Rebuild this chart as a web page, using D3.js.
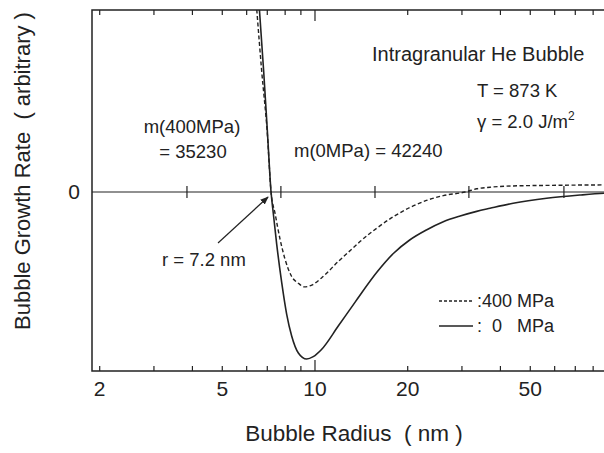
<!DOCTYPE html>
<html>
<head>
<meta charset="utf-8">
<script src="https://cdn.jsdelivr.net/npm/d3@7"></script>
<style>
  body { margin: 0; background: #fff; }
  text { font-family: "Liberation Sans", Arial, Helvetica, sans-serif; fill: #222; }
</style>
</head>
<body>
<script>
// bubble radius (nm) and growth rate (arbitrary units), 0 MPa curve
var radius0 = [6.6, 6.81, 7.01, 7.2, 7.32, 7.51, 7.8, 8.09, 8.4, 8.83, 9.4, 9.87, 10.5, 11.9, 13.5, 15.9, 18.0, 20.3, 23.0, 26.1, 29.6, 33.5, 37.0, 44.0, 56.5, 72.5, 87, 98];
var rate0 = [1.02, 0.68, 0.33, 0, -0.117, -0.291, -0.508, -0.682, -0.804, -0.899, -0.933, -0.92, -0.88, -0.749, -0.615, -0.447, -0.342, -0.268, -0.212, -0.166, -0.134, -0.108, -0.091, -0.063, -0.035, -0.017, -0.007, -0.004];

// 400 MPa curve
var radius400 = [6.47, 6.71, 7.0, 7.2, 7.42, 7.7, 7.99, 8.4, 8.83, 9.23, 9.76, 10.5, 11.9, 13.5, 14.0, 15.9, 18.0, 20.3, 23.0, 26.1, 30.7, 33.5, 37.0, 44.0, 56.5, 72.5, 98];
var rate400 = [1.02, 0.68, 0.33, 0, -0.12, -0.263, -0.374, -0.472, -0.51, -0.53, -0.52, -0.48, -0.388, -0.302, -0.277, -0.201, -0.137, -0.087, -0.047, -0.02, 0, 0.018, 0.027, 0.034, 0.037, 0.039, 0.04];

var xTickLabels = [2, 5, 10, 20, 50];
var xMinorTicks = [2, 3, 4, 5, 6, 7, 8, 9, 20, 30, 40, 50, 60, 70, 80, 90];
var xMajorTicks = [10, 100];
var zeroLineTicks = [3.84, 7.75, 15.66, 31.6, 64.3];

var legendItems = [
    {label: ":400 MPa", dash: "3,2"},
    {label: ":  0   MPa", dash: null}
];

var W = 604, H = 453;
var plotLeft = 92, plotTop = 10, plotBottom = 371;
var pxPerDecade = 308;

var x = d3.scaleLog()
    .domain([1.888, 100])
    .range([plotLeft, plotLeft + Math.log10(100 / 1.888) * pxPerDecade]);

var y = d3.scaleLinear()
    .domain([-1, 1.017])
    .range([plotBottom, plotTop]);

var svg = d3.select("body")
  .append("svg")
  .attr("width", W)
  .attr("height", H);

var defs = svg.append("defs");

defs.append("clipPath")
    .attr("id", "plot")
  .append("rect")
    .attr("x", plotLeft)
    .attr("y", plotTop)
    .attr("width", W - plotLeft)
    .attr("height", plotBottom - plotTop);

defs.append("marker")
    .attr("id", "arrow")
    .attr("viewBox", "0 0 10 10")
    .attr("refX", 9)
    .attr("refY", 5)
    .attr("markerWidth", 7)
    .attr("markerHeight", 7)
    .attr("orient", "auto")
  .append("path")
    .attr("d", "M0,1 L10,5 L0,9 Z")
    .attr("fill", "#222");

// frame (right side runs off the page)
svg.append("path")
    .attr("d", "M" + (W + 5) + "," + plotTop + "H" + plotLeft + "V" + plotBottom + "H" + (W + 5))
    .attr("fill", "none")
    .attr("stroke", "#222")
    .attr("stroke-width", 1.5);

// zero line
svg.append("line")
    .attr("x1", plotLeft).attr("x2", W)
    .attr("y1", y(0)).attr("y2", y(0))
    .attr("stroke", "#222")
    .attr("stroke-width", 1.2);

svg.selectAll("line.zt")
    .data(zeroLineTicks)
    .enter().append("line")
    .attr("class", "zt")
    .attr("x1", function(d){return x(d);})
    .attr("x2", function(d){return x(d);})
    .attr("y1", y(0) - 6)
    .attr("y2", y(0) + 6)
    .attr("stroke", "#222")
    .attr("stroke-width", 1.2);

// inward ticks on bottom and top edges
var bottomAxis = svg.append("g")
    .attr("transform", "translate(0," + plotBottom + ")");
var topAxis = svg.append("g")
    .attr("transform", "translate(0," + plotTop + ")");

function drawTicks(g, values, len, dir) {
    g.selectAll("line.t" + len)
        .data(values)
        .enter().append("line")
        .attr("class", "t" + len)
        .attr("x1", function(d){return x(d);})
        .attr("x2", function(d){return x(d);})
        .attr("y1", 0)
        .attr("y2", dir * len)
        .attr("stroke", "#222")
        .attr("stroke-width", 1.2);
}
drawTicks(bottomAxis, xMinorTicks, 5, -1);
drawTicks(bottomAxis, xMajorTicks, 11, -1);
drawTicks(topAxis, xMinorTicks, 5, 1);
drawTicks(topAxis, xMajorTicks, 11, 1);

bottomAxis.selectAll("text")
    .data(xTickLabels)
    .enter().append("text")
    .attr("x", function(d){return x(d);})
    .attr("y", 25)
    .attr("text-anchor", "middle")
    .attr("font-size", 21)
    .text(function(d){return d;});

svg.append("text")
    .attr("x", 74)
    .attr("y", y(0) + 7)
    .attr("text-anchor", "middle")
    .attr("font-size", 21)
    .text("0");

// curves
var line = d3.line()
    .x(function(d){return x(d[0]);})
    .y(function(d){return y(d[1]);})
    .curve(d3.curveMonotoneX);

var plot = svg.append("g").attr("clip-path", "url(#plot)");

plot.append("path")
    .datum(d3.zip(radius400, rate400))
    .attr("d", line)
    .attr("fill", "none")
    .attr("stroke", "#222")
    .attr("stroke-width", 1.4)
    .attr("stroke-dasharray", "4,2.5");

plot.append("path")
    .datum(d3.zip(radius0, rate0))
    .attr("d", line)
    .attr("fill", "none")
    .attr("stroke", "#222")
    .attr("stroke-width", 1.6);

// axis titles
svg.append("text")
    .attr("x", 354)
    .attr("y", 441)
    .attr("text-anchor", "middle")
    .attr("font-size", 22.5)
    .attr("xml:space", "preserve")
    .text("Bubble Radius  ( nm )");

svg.append("text")
    .attr("transform", "translate(30,171) rotate(-90)")
    .attr("text-anchor", "middle")
    .attr("font-size", 22)
    .attr("xml:space", "preserve")
    .text("Bubble Growth Rate  ( arbitrary )");

// annotations
svg.append("text")
    .attr("x", 372).attr("y", 61)
    .attr("font-size", 20)
    .text("Intragranular He Bubble");

svg.append("text")
    .attr("x", 477).attr("y", 97)
    .attr("font-size", 18.5)
    .text("T = 873 K");

var gamma = svg.append("text")
    .attr("x", 477).attr("y", 128)
    .attr("font-size", 18.5);
gamma.append("tspan").text("\u03b3 = 2.0 J/m");
gamma.append("tspan").attr("font-size", 12).attr("dy", -8).text("2");

svg.append("text")
    .attr("x", 192).attr("y", 133)
    .attr("text-anchor", "middle")
    .attr("font-size", 18.5)
    .text("m(400MPa)");

svg.append("text")
    .attr("x", 193).attr("y", 158)
    .attr("text-anchor", "middle")
    .attr("font-size", 18.5)
    .text("= 35230");

svg.append("text")
    .attr("x", 294).attr("y", 157)
    .attr("font-size", 18.5)
    .text("m(0MPa) = 42240");

svg.append("text")
    .attr("x", 162).attr("y", 266)
    .attr("font-size", 18.5)
    .text("r = 7.2 nm");

svg.append("line")
    .attr("x1", 218).attr("y1", 243)
    .attr("x2", x(7.2) - 3).attr("y2", y(0) + 5)
    .attr("stroke", "#222")
    .attr("stroke-width", 1.2)
    .attr("marker-end", "url(#arrow)");

// legend
var legend = svg.selectAll("g.legend")
    .data(legendItems)
    .enter().append("g")
    .attr("class", "legend")
    .attr("transform", function(d, i){return "translate(439," + (301 + i * 25) + ")";});

legend.append("line")
    .attr("x1", 0).attr("x2", 34)
    .attr("stroke", "#222")
    .attr("stroke-width", 1.3)
    .attr("stroke-dasharray", function(d){return d.dash;});

legend.append("text")
    .attr("x", 38)
    .attr("y", 6)
    .attr("font-size", 18)
    .attr("xml:space", "preserve")
    .text(function(d){return d.label;});
</script>
</body>
</html>
